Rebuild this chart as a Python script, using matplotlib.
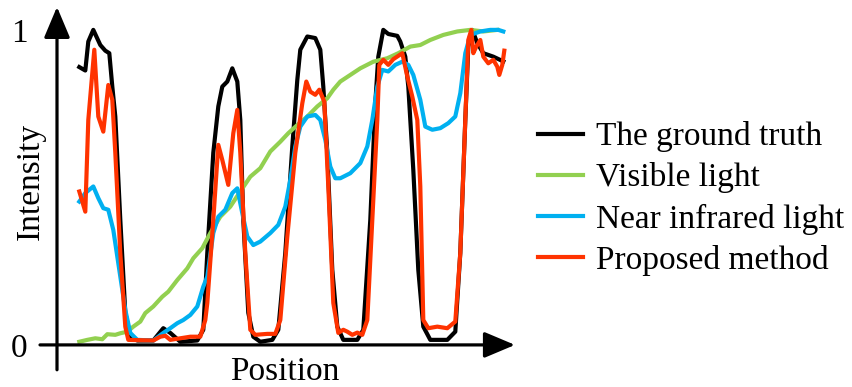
import numpy as np
import matplotlib
matplotlib.use('Agg')
import matplotlib.pyplot as plt

plt.rcParams['font.family'] = ['Liberation Serif', 'DejaVu Serif']

# intensity profiles sampled along the line (position in arbitrary units)
truth_pos = [0, 6, 9, 14, 21, 26, 30, 33, 36, 41, 46, 51, 58, 74, 84, 91, 101, 118, 124, 128,
             134, 139, 143, 148, 153, 158, 161, 164, 169, 174, 181, 193, 199, 206, 213, 218,
             221, 228, 236, 241, 244, 248, 253, 258, 264, 278, 284, 291, 296, 299, 304, 309,
             318, 321, 326, 329, 334, 339, 344, 351, 368, 376, 381, 386, 389, 393, 398, 404,
             414, 424]
truth_val = [0.882, 0.871, 0.963, 1.0, 0.952, 0.934, 0.926, 0.82, 0.725, 0.397, 0.102, 0.026,
             0.014, 0.014, 0.053, 0.038, 0.01, 0.014, 0.048, 0.292, 0.61, 0.757, 0.82, 0.836,
             0.878, 0.836, 0.714, 0.397, 0.102, 0.026, 0.01, 0.016, 0.048, 0.292, 0.63, 0.841,
             0.937, 0.979, 0.974, 0.937, 0.82, 0.61, 0.238, 0.058, 0.016, 0.016, 0.048, 0.397,
             0.768, 0.915, 1.0, 0.987, 0.981, 0.963, 0.915, 0.82, 0.556, 0.238, 0.058, 0.016,
             0.016, 0.042, 0.292, 0.714, 0.947, 1.0, 0.958, 0.926, 0.915, 0.9]

visible_pos = [0, 8, 16, 23, 28, 36, 41, 48, 54, 61, 66, 74, 83, 89, 98, 108, 114, 123, 131,
               141, 151, 161, 171, 181, 191, 201, 209, 218, 228, 238, 248, 254, 261, 271, 281,
               294, 308, 319, 331, 341, 351, 364, 378, 391, 404, 418]
visible_val = [0.01, 0.016, 0.021, 0.018, 0.034, 0.032, 0.037, 0.042, 0.058, 0.074, 0.101,
               0.122, 0.153, 0.169, 0.206, 0.243, 0.275, 0.307, 0.355, 0.407, 0.439, 0.487,
               0.534, 0.561, 0.614, 0.645, 0.672, 0.698, 0.725, 0.757, 0.783, 0.81, 0.836,
               0.857, 0.878, 0.899, 0.91, 0.926, 0.947, 0.952, 0.968, 0.984, 0.995, 1.0,
               0.995, 1.0]

nir_pos = [0, 6, 14, 19, 24, 29, 34, 41, 46, 51, 58, 74, 84, 91, 98, 104, 111, 118, 124, 128,
           134, 139, 146, 153, 158, 163, 168, 174, 181, 191, 199, 206, 211, 216, 221, 228, 236,
           241, 246, 251, 256, 261, 271, 281, 288, 293, 298, 303, 309, 316, 323, 329, 334, 341,
           346, 353, 361, 369, 376, 381, 386, 391, 401, 411, 419, 424]
nir_val = [0.455, 0.482, 0.503, 0.466, 0.434, 0.429, 0.365, 0.217, 0.111, 0.038, 0.016, 0.014,
           0.038, 0.053, 0.069, 0.079, 0.095, 0.122, 0.185, 0.217, 0.355, 0.407, 0.429, 0.482,
           0.497, 0.418, 0.344, 0.317, 0.328, 0.355, 0.381, 0.439, 0.524, 0.63, 0.693, 0.725,
           0.73, 0.714, 0.651, 0.566, 0.529, 0.529, 0.545, 0.577, 0.63, 0.714, 0.82, 0.873,
           0.868, 0.889, 0.899, 0.889, 0.857, 0.778, 0.693, 0.683, 0.688, 0.704, 0.725, 0.799,
           0.926, 0.984, 0.995, 1.0, 1.0, 0.995]

ours_pos = [0, 6, 9, 15, 19, 24, 29, 33, 36, 41, 46, 49, 74, 81, 86, 91, 101, 111, 121, 126,
            128, 134, 139, 143, 149, 154, 158, 161, 166, 171, 176, 188, 196, 201, 208, 216, 223,
            227, 231, 236, 240, 245, 249, 254, 259, 264, 268, 273, 278, 283, 288, 293, 298, 300,
            304, 309, 314, 323, 328, 333, 338, 341, 344, 349, 358, 368, 376, 381, 386, 389, 392,
            394, 397, 401, 404, 409, 414, 418, 420, 423, 425]
ours_val = [0.487, 0.423, 0.714, 0.937, 0.725, 0.677, 0.825, 0.778, 0.61, 0.292, 0.058, 0.016,
            0.014, 0.026, 0.029, 0.016, 0.021, 0.026, 0.026, 0.079, 0.133, 0.397, 0.635, 0.587,
            0.508, 0.672, 0.746, 0.61, 0.292, 0.048, 0.032, 0.035, 0.035, 0.079, 0.344, 0.61,
            0.767, 0.836, 0.804, 0.794, 0.81, 0.772, 0.503, 0.133, 0.038, 0.048, 0.042, 0.032,
            0.039, 0.032, 0.079, 0.397, 0.714, 0.889, 0.905, 0.889, 0.907, 0.926, 0.852, 0.788,
            0.714, 0.503, 0.079, 0.053, 0.058, 0.053, 0.074, 0.292, 0.714, 0.968, 1.0, 0.926,
            0.947, 0.968, 0.915, 0.894, 0.905, 0.883, 0.857, 0.889, 0.934]

labels = ['The ground truth', 'Visible light', 'Near infrared light', 'Proposed method']
colors = ['#000000', '#92D050', '#00B0F0', '#FF3300']

fig = plt.figure(figsize=(8.53, 3.87), dpi=100)
ax = fig.add_axes([40 / 853, 15 / 387, 475 / 853, 367 / 387])

ax.plot(truth_pos, truth_val, color=colors[0], lw=3, label=labels[0], solid_joinstyle='round')
ax.plot(visible_pos, visible_val, color=colors[1], lw=3, label=labels[1], solid_joinstyle='round')
ax.plot(nir_pos, nir_val, color=colors[2], lw=3, label=labels[2], solid_joinstyle='round')
ax.plot(ours_pos, ours_val, color=colors[3], lw=3, label=labels[3], solid_joinstyle='round')

ax.set_xlim(-39.3, 435.7)
ax.set_ylim(-0.086, 1.079)
for s in ax.spines.values():
    s.set_visible(False)
ax.set_xticks([])
ax.set_yticks([0, 1])
ax.set_yticklabels(['0', '1'])
ax.tick_params(axis='y', length=0, pad=9, labelsize=24)

# arrow-style axes
arrow = dict(arrowstyle='-|>,head_length=0.95,head_width=0.4', lw=2.3, color='black',
             shrinkA=0, shrinkB=0, mutation_scale=20)
ax.annotate('', xy=(435.7, 0), xytext=(-39.3, 0), arrowprops=arrow, annotation_clip=False)
ax.annotate('', xy=(-22.3, 1.073), xytext=(-22.3, -0.079), arrowprops=arrow, annotation_clip=False)

fig.text(285 / 853, 1 - 380 / 387, 'Position', ha='center', va='baseline', fontsize=24)
fig.text(39 / 853, 1 - 181 / 387, 'Intensity', ha='center', va='baseline', rotation=90,
         rotation_mode='anchor', fontsize=24)

fig.legend(loc='center left', bbox_to_anchor=(538 / 853, 1 - 198.5 / 387), frameon=False,
           fontsize=24, handlelength=1.35, handletextpad=0.4, borderpad=0, borderaxespad=0,
           labelspacing=0.3)

fig.savefig('out.png', dpi=100)
